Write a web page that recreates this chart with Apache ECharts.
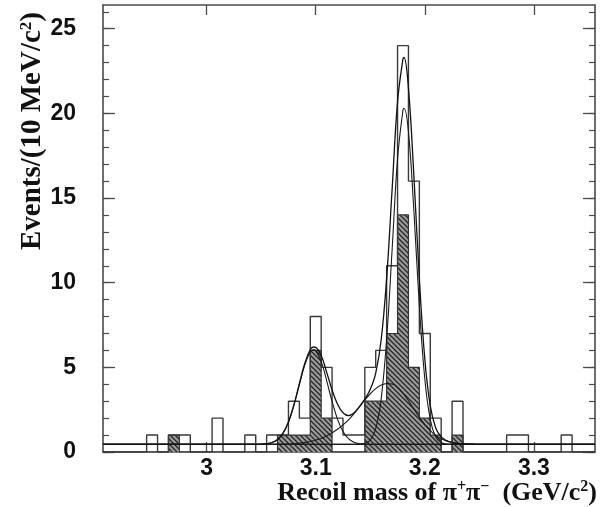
<!DOCTYPE html>
<html>
<head>
<meta charset="utf-8">
<script src="https://cdn.jsdelivr.net/npm/echarts@6/dist/echarts.min.js"></script>
<style>
  html, body { margin: 0; padding: 0; background: #fff; }
  #chart { width: 609px; height: 507px; }
</style>
</head>
<body>
<div id="chart"></div>
<script>
// Recoil mass histogram, 10 MeV bins (bin centres in GeV/c^2)
const allCenters = [2.95, 2.97, 2.98, 3.01, 3.04, 3.06, 3.07, 3.08, 3.09, 3.10, 3.11, 3.12, 3.13,
                    3.14, 3.15, 3.16, 3.17, 3.18, 3.19, 3.20, 3.21, 3.23, 3.28, 3.29, 3.33];
const allCounts  = [1, 1, 1, 2, 1, 1, 1, 3, 2, 8, 5, 2, 1,
                    1, 5, 6, 11, 24, 16, 7, 2, 3, 1, 1, 1];

// Selected subsample (hatched)
const selCenters = [2.97, 3.07, 3.08, 3.09, 3.10, 3.11, 3.15, 3.16, 3.17, 3.18, 3.19, 3.20, 3.21, 3.23];
const selCounts  = [1, 1, 1, 1, 6, 2, 3, 3, 7, 14, 5, 2, 1, 1];

// Fit curves, sampled in mass
const curveX = [3.030, 3.035, 3.040, 3.045, 3.050, 3.055, 3.060, 3.065, 3.070, 3.075, 3.080, 3.085,
                3.090, 3.095, 3.098, 3.100, 3.105, 3.110, 3.115, 3.120, 3.125, 3.130, 3.135, 3.140,
                3.145, 3.150, 3.155, 3.160, 3.165, 3.170, 3.175, 3.180, 3.181, 3.185, 3.190, 3.195,
                3.200, 3.205, 3.210, 3.215, 3.220, 3.225, 3.230, 3.235, 3.240, 3.245, 3.250];
// total fit
const fitTotal = [0.45, 0.45, 0.45, 0.45, 0.46, 0.49, 0.56, 0.74, 1.12, 1.78, 2.79, 4.04,
                  5.25, 6.05, 6.20, 6.18, 5.70, 4.72, 3.66, 2.82, 2.32, 2.15, 2.30, 2.68,
                  3.12, 3.70, 4.66, 6.63, 10.25, 15.49, 20.68, 23.23, 23.30, 21.49, 16.28, 10.21,
                  5.48, 2.72, 1.42, 0.89, 0.67, 0.56, 0.51, 0.48, 0.47, 0.46, 0.45];
// J/psi peak plus background
const fitJpsi = [0.45, 0.45, 0.45, 0.45, 0.46, 0.49, 0.56, 0.73, 1.10, 1.76, 2.75, 3.97,
                 5.15, 5.91, 6.05, 5.99, 5.35, 4.22, 2.98, 1.93, 1.21, 0.79, 0.58, 0.49,
                 0.46, 0.45, 0.45, 0.45, 0.45, 0.45, 0.45, 0.45, 0.45, 0.45, 0.45, 0.45,
                 0.45, 0.45, 0.45, 0.45, 0.45, 0.45, 0.45, 0.45, 0.45, 0.45, 0.45];
// broad component plus background
const fitBroad = [0.45, 0.45, 0.45, 0.45, 0.45, 0.45, 0.45, 0.46, 0.46, 0.47, 0.49, 0.52,
                  0.56, 0.62, 0.66, 0.70, 0.80, 0.95, 1.13, 1.34, 1.60, 1.90, 2.26, 2.66,
                  3.07, 3.44, 3.74, 3.95, 4.04, 4.02, 3.82, 3.47, 3.39, 3.03, 2.53, 2.05,
                  1.62, 1.26, 0.98, 0.78, 0.65, 0.56, 0.51, 0.48, 0.47, 0.46, 0.45];
// narrow peak plus background
const fitNarrow = [0.45, 0.45, 0.45, 0.45, 0.45, 0.45, 0.45, 0.45, 0.45, 0.45, 0.45, 0.45,
                   0.45, 0.45, 0.45, 0.45, 0.45, 0.45, 0.45, 0.45, 0.45, 0.45, 0.45, 0.46,
                   0.51, 0.70, 1.38, 3.14, 6.66, 11.92, 17.31, 20.21, 20.30, 18.91, 14.20, 8.61,
                   4.31, 1.91, 0.89, 0.56, 0.47, 0.45, 0.45, 0.45, 0.45, 0.45, 0.45];
// flat background level across the window
const bkgX = [2.905, 3.356];
const bkgY = [0.45, 0.45];

const xTickValues = [3.0, 3.1, 3.2, 3.3];
const xTickLabels = ['3', '3.1', '3.2', '3.3'];
const yTickValues = [0, 5, 10, 15, 20, 25];
const yMinorValues = Array.from({ length: 27 }, (_, i) => i);

const X_MIN = 2.905, X_MAX = 3.356, Y_MAX = 26.4, BIN = 0.01;

// step outline of a histogram: walks along the baseline between filled runs
function stepOutline(centers, counts) {
  const pts = [[X_MIN, 0]];
  for (let i = 0; i < centers.length; i++) {
    const lo = +(centers[i] - BIN / 2).toFixed(4);
    const hi = +(centers[i] + BIN / 2).toFixed(4);
    const prevAdj = i > 0 && Math.abs(centers[i - 1] + BIN - centers[i]) < 1e-6;
    if (!prevAdj) pts.push([lo, 0]);
    pts.push([lo, counts[i]]);
    pts.push([hi, counts[i]]);
    const nextAdj = i < centers.length - 1 && Math.abs(centers[i] + BIN - centers[i + 1]) < 1e-6;
    if (!nextAdj) pts.push([hi, 0]);
  }
  pts.push([X_MAX, 0]);
  return pts;
}

function curve(ys) {
  return [[X_MIN, ys[0]]].concat(curveX.map((x, i) => [x, ys[i]]), [[X_MAX, ys[ys.length - 1]]]);
}

// diagonal hatch used for the selected subsample
function hatchPattern() {
  const c = document.createElement('canvas');
  c.width = 5; c.height = 5;
  const g = c.getContext('2d');
  g.fillStyle = '#9c9c9c';
  g.fillRect(0, 0, 5, 5);
  g.strokeStyle = '#262626';
  g.lineWidth = 1.3;
  g.beginPath();
  g.moveTo(-1, -1); g.lineTo(6, 6);
  g.moveTo(-1, 4); g.lineTo(1, 6);
  g.moveTo(4, -1); g.lineTo(6, 1);
  g.stroke();
  return c;
}

const frameColor = '#4a4a4a';
const tickFont = { fontFamily: 'Liberation Sans', fontWeight: 'bold', fontSize: 23, color: '#111' };

const chart = echarts.init(document.getElementById('chart'), null, { renderer: 'canvas' });

const lineBase = { type: 'line', showSymbol: false, symbol: 'none', animation: false, z: 3 };

chart.setOption({
  animation: false,
  backgroundColor: '#fff',
  grid: { left: 103, right: 14, top: 5, bottom: 55, show: false },
  xAxis: [
    {
      type: 'value', min: X_MIN, max: X_MAX, position: 'bottom',
      axisLine: { show: true, onZero: false, lineStyle: { color: frameColor, width: 1.6 } },
      axisTick: { show: true, inside: true, length: 10, customValues: xTickValues,
                  lineStyle: { color: frameColor, width: 1.3 } },
      axisLabel: Object.assign({ customValues: xTickValues, margin: 5,
                  formatter: v => xTickLabels[xTickValues.findIndex(t => Math.abs(t - v) < 1e-6)] || '' }, tickFont),
      splitLine: { show: false }
    },
    {
      type: 'value', min: X_MIN, max: X_MAX, position: 'top',
      axisLine: { show: true, onZero: false, lineStyle: { color: frameColor, width: 1.6 } },
      axisTick: { show: true, inside: true, length: 10, customValues: xTickValues,
                  lineStyle: { color: frameColor, width: 1.3 } },
      axisLabel: { show: false },
      splitLine: { show: false }
    }
  ],
  yAxis: [
    {
      type: 'value', min: 0, max: Y_MAX, position: 'left',
      axisLine: { show: true, onZero: false, lineStyle: { color: frameColor, width: 1.6 } },
      axisTick: { show: true, inside: true, length: 12, customValues: yTickValues,
                  lineStyle: { color: frameColor, width: 1.3 } },
      axisLabel: Object.assign({ customValues: yTickValues, margin: 27 }, tickFont),
      splitLine: { show: false }
    },
    {
      type: 'value', min: 0, max: Y_MAX, position: 'left',
      axisLine: { show: false },
      axisTick: { show: true, inside: true, length: 6, customValues: yMinorValues,
                  lineStyle: { color: frameColor, width: 1.2 } },
      axisLabel: { show: false }, splitLine: { show: false }
    },
    {
      type: 'value', min: 0, max: Y_MAX, position: 'right',
      axisLine: { show: true, onZero: false, lineStyle: { color: frameColor, width: 1.6 } },
      axisTick: { show: true, inside: true, length: 12, customValues: yTickValues,
                  lineStyle: { color: frameColor, width: 1.3 } },
      axisLabel: { show: false }, splitLine: { show: false }
    },
    {
      type: 'value', min: 0, max: Y_MAX, position: 'right',
      axisLine: { show: false },
      axisTick: { show: true, inside: true, length: 6, customValues: yMinorValues,
                  lineStyle: { color: frameColor, width: 1.2 } },
      axisLabel: { show: false }, splitLine: { show: false }
    }
  ],
  series: [
    Object.assign({}, lineBase, {
      name: 'selected', data: stepOutline(selCenters, selCounts),
      lineStyle: { color: '#333', width: 1.2 },
      areaStyle: { color: { image: hatchPattern(), repeat: 'repeat' }, opacity: 1 },
      z: 2
    }),
    Object.assign({}, lineBase, {
      name: 'all', data: stepOutline(allCenters, allCounts),
      lineStyle: { color: '#3a3a3a', width: 1.4 }
    }),
    Object.assign({}, lineBase, {
      name: 'background', data: bkgX.map((x, i) => [x, bkgY[i]]),
      lineStyle: { color: '#222', width: 1.1 }
    }),
    Object.assign({}, lineBase, {
      name: 'broad', data: curve(fitBroad), smooth: 0.4,
      lineStyle: { color: '#1a1a1a', width: 1.1 }
    }),
    Object.assign({}, lineBase, {
      name: 'jpsi', data: curve(fitJpsi), smooth: 0.4,
      lineStyle: { color: '#1a1a1a', width: 1.1 }
    }),
    Object.assign({}, lineBase, {
      name: 'narrow', data: curve(fitNarrow), smooth: 0.4,
      lineStyle: { color: '#1a1a1a', width: 1.1 }
    }),
    Object.assign({}, lineBase, {
      name: 'total', data: curve(fitTotal), smooth: 0.4,
      lineStyle: { color: '#111', width: 1.3 }
    })
  ],
  graphic: [
    {
      type: 'text', x: 33, y: 250, rotation: Math.PI / 2,
      style: {
        text: '{t|Events/(10 MeV/c}{s|2}{t|)}',
        rich: {
          t: { fontFamily: 'Liberation Serif', fontWeight: 'bold', fontSize: 29, fill: '#111' },
          s: { fontFamily: 'Liberation Serif', fontWeight: 'bold', fontSize: 17, fill: '#111',
               padding: [0, 0, 13, 0] }
        },
        align: 'left', verticalAlign: 'middle'
      }
    },
    {
      type: 'text', x: 597, y: 493,
      style: {
        text: '{t|Recoil mass of π}{s|+}{t|π}{s|−}{t|  (GeV/c}{s|2}{t|)}',
        rich: {
          t: { fontFamily: 'Liberation Serif', fontWeight: 'bold', fontSize: 26, fill: '#111' },
          s: { fontFamily: 'Liberation Serif', fontWeight: 'bold', fontSize: 16, fill: '#111',
               padding: [0, 0, 13, 0] }
        },
        align: 'right', verticalAlign: 'middle'
      }
    }
  ]
});
</script>
</body>
</html>
